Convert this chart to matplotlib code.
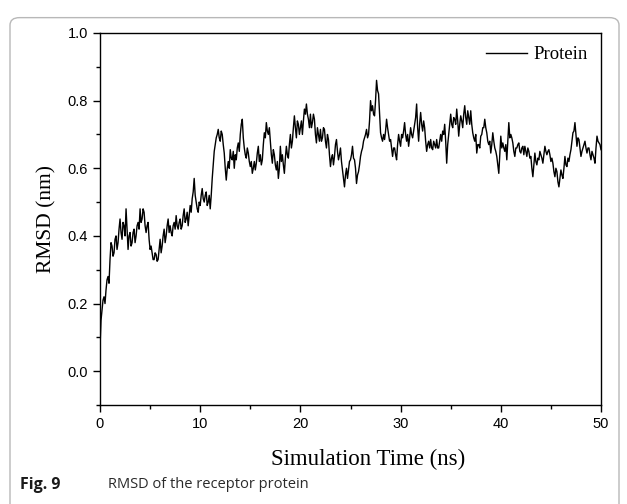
import numpy as np
import matplotlib
matplotlib.use('Agg')
import matplotlib.pyplot as plt
from matplotlib.patches import FancyBboxPatch
from matplotlib.ticker import MultipleLocator

# RMSD (nm) at t = 0.0, 0.2, 0.4 ... 50.0 ns
rmsd_even = [
    0.07, 0.18, 0.22, 0.24, 0.28,
    0.33, 0.37, 0.35, 0.40, 0.38,
    0.45, 0.39, 0.43, 0.48, 0.36,
    0.41, 0.38, 0.42, 0.40, 0.44,
    0.48, 0.45, 0.47, 0.41, 0.44,
    0.36, 0.35, 0.33, 0.345, 0.33,
    0.39, 0.37, 0.42, 0.40, 0.45,
    0.43, 0.40, 0.44, 0.46, 0.42,
    0.45, 0.43, 0.48, 0.45, 0.43,
    0.49, 0.51, 0.57, 0.50, 0.47,
    0.49, 0.54, 0.50, 0.53, 0.50,
    0.48, 0.57, 0.65, 0.69, 0.715,
    0.68, 0.70, 0.645, 0.565, 0.62,
    0.655, 0.625, 0.60, 0.625, 0.675,
    0.70, 0.745, 0.66, 0.63, 0.645,
    0.605, 0.585, 0.62, 0.615, 0.665,
    0.64, 0.625, 0.705, 0.735, 0.70,
    0.68, 0.615, 0.64, 0.595, 0.57,
    0.665, 0.64, 0.585, 0.665, 0.63,
    0.70, 0.68, 0.755, 0.69, 0.73,
    0.72, 0.70, 0.775, 0.79, 0.745,
    0.76, 0.735, 0.745, 0.675, 0.70,
    0.715, 0.69, 0.715, 0.66, 0.685,
    0.605, 0.64, 0.635, 0.685, 0.625,
    0.66, 0.595, 0.545, 0.60, 0.595,
    0.625, 0.665, 0.625, 0.555, 0.59,
    0.635, 0.66, 0.69, 0.715, 0.70,
    0.80, 0.785, 0.755, 0.86, 0.82,
    0.705, 0.68, 0.685, 0.745, 0.70,
    0.685, 0.635, 0.66, 0.625, 0.70,
    0.665, 0.69, 0.735, 0.68, 0.665,
    0.72, 0.69, 0.73, 0.79, 0.68,
    0.765, 0.71, 0.72, 0.65, 0.68,
    0.685, 0.655, 0.67, 0.685, 0.66,
    0.70, 0.71, 0.73, 0.615, 0.70,
    0.76, 0.72, 0.745, 0.775, 0.695,
    0.755, 0.72, 0.785, 0.73, 0.75,
    0.77, 0.705, 0.68, 0.645, 0.67,
    0.695, 0.72, 0.745, 0.705, 0.67,
    0.645, 0.705, 0.66, 0.635, 0.585,
    0.695, 0.675, 0.65, 0.625, 0.735,
    0.70, 0.675, 0.635, 0.66, 0.675,
    0.645, 0.665, 0.665, 0.635, 0.65,
    0.635, 0.575, 0.645, 0.61, 0.625,
    0.64, 0.615, 0.665, 0.64, 0.655,
    0.62, 0.615, 0.575, 0.59, 0.545,
    0.595, 0.57, 0.635, 0.605, 0.62,
    0.655, 0.705, 0.735, 0.665, 0.685,
    0.635, 0.66, 0.68, 0.645, 0.66,
    0.625, 0.64, 0.615, 0.695, 0.675,
    0.655,
]

# in-between frames at t = 0.1, 0.3 ... 49.9 ns (the jitter of the trace)
rmsd_odd = [
    0.15, 0.21, 0.20, 0.27, 0.26,
    0.38, 0.34, 0.39, 0.36, 0.42,
    0.41, 0.44, 0.40, 0.42, 0.40,
    0.37, 0.41, 0.38, 0.43, 0.42,
    0.44, 0.48, 0.43, 0.43, 0.39,
    0.37, 0.33, 0.35, 0.325, 0.36,
    0.35, 0.40, 0.38, 0.43, 0.41,
    0.41, 0.43, 0.42, 0.43, 0.44,
    0.42, 0.46, 0.44, 0.47, 0.46,
    0.47, 0.53, 0.52, 0.48, 0.50,
    0.52, 0.51, 0.52, 0.49, 0.52,
    0.52, 0.61, 0.67, 0.70, 0.69,
    0.71, 0.67, 0.60, 0.60, 0.60,
    0.63, 0.65, 0.64, 0.66, 0.65,
    0.73, 0.69, 0.64, 0.66, 0.62,
    0.62, 0.60, 0.595, 0.645, 0.62,
    0.61, 0.67, 0.69, 0.71, 0.72,
    0.64, 0.655, 0.61, 0.62, 0.60,
    0.62, 0.61, 0.63, 0.64, 0.67,
    0.66, 0.72, 0.72, 0.74, 0.70,
    0.74, 0.74, 0.76, 0.76, 0.72,
    0.72, 0.76, 0.70, 0.72, 0.68,
    0.68, 0.72, 0.68, 0.70, 0.64,
    0.63, 0.61, 0.67, 0.65, 0.64,
    0.62, 0.57, 0.58, 0.57, 0.62,
    0.64, 0.63, 0.60, 0.58, 0.61,
    0.65, 0.68, 0.70, 0.69, 0.74,
    0.77, 0.76, 0.80, 0.83, 0.76,
    0.69, 0.70, 0.71, 0.72, 0.68,
    0.66, 0.66, 0.64, 0.67, 0.68,
    0.70, 0.71, 0.70, 0.70, 0.69,
    0.70, 0.71, 0.75, 0.72, 0.73,
    0.73, 0.74, 0.68, 0.67, 0.66,
    0.66, 0.68, 0.66, 0.66, 0.68,
    0.68, 0.70, 0.68, 0.67, 0.73,
    0.73, 0.75, 0.73, 0.74, 0.73,
    0.74, 0.76, 0.75, 0.77, 0.73,
    0.73, 0.69, 0.70, 0.67, 0.66,
    0.70, 0.72, 0.72, 0.68, 0.68,
    0.67, 0.68, 0.65, 0.61, 0.64,
    0.66, 0.66, 0.67, 0.68, 0.69,
    0.69, 0.65, 0.66, 0.67, 0.65,
    0.66, 0.64, 0.65, 0.66, 0.63,
    0.60, 0.61, 0.62, 0.63, 0.65,
    0.63, 0.64, 0.65, 0.65, 0.64,
    0.63, 0.59, 0.60, 0.56, 0.57,
    0.58, 0.60, 0.61, 0.63, 0.64,
    0.68, 0.71, 0.70, 0.69, 0.66,
    0.65, 0.67, 0.66, 0.66, 0.64,
    0.65, 0.63, 0.66, 0.68, 0.67,
]

rmsd = np.empty(len(rmsd_even) + len(rmsd_odd))
rmsd[0::2] = rmsd_even
rmsd[1::2] = rmsd_odd
time_ns = np.arange(len(rmsd)) * 0.1

fig = plt.figure(figsize=(6.27, 5.04), dpi=100)

# rounded frame around the whole figure
frame = FancyBboxPatch((10 / 627, -0.02), 609 / 627, 0.985,
                       boxstyle='round,pad=0,rounding_size=0.015',
                       transform=fig.transFigure, fill=False,
                       edgecolor='#b8b8b8', linewidth=1.0)
fig.patches.append(frame)

ax = fig.add_axes([100 / 627, 1 - 405 / 504, 501 / 627, 372 / 504])
ax.plot(time_ns, rmsd, color='black', linewidth=1.0, label='Protein')

ax.set_xlim(0, 50)
ax.set_ylim(-0.1, 1.0)
ax.xaxis.set_major_locator(MultipleLocator(10))
ax.xaxis.set_minor_locator(MultipleLocator(5))
ax.yaxis.set_major_locator(MultipleLocator(0.2))
ax.yaxis.set_minor_locator(MultipleLocator(0.1))
ax.set_yticks([0.0, 0.2, 0.4, 0.6, 0.8, 1.0])
ax.tick_params(which='both', direction='out', top=False, right=False,
               labelsize=10.5, width=1.0)
ax.tick_params(which='major', length=5)
ax.tick_params(which='minor', length=3)
for lbl in ax.get_xticklabels() + ax.get_yticklabels():
    lbl.set_family('Liberation Sans')
for sp in ax.spines.values():
    sp.set_linewidth(1.0)

ax.set_xlabel('Simulation Time (ns)', family='Liberation Serif',
              fontsize=16.5)
ax.xaxis.set_label_coords(0.536, -0.118)
ax.set_ylabel('RMSD (nm)', family='Liberation Serif', fontsize=15.5,
              labelpad=8)

ax.legend(loc='upper right', frameon=False, handlelength=2.2,
          handletextpad=0.35, prop={'family': 'Liberation Serif', 'size': 13.5},
          borderaxespad=0.3)

fig.text(20 / 627, 1 - 485 / 504, 'Fig. 9', family='Open Sans',
         fontweight='bold', fontsize=11.5, color='#1a1a1a', va='center')
fig.text(108 / 627, 1 - 485 / 504, 'RMSD of the receptor protein',
         family='Open Sans', fontsize=10.5, color='#2a2a2a', va='center')

fig.savefig('out.png', dpi=100)
